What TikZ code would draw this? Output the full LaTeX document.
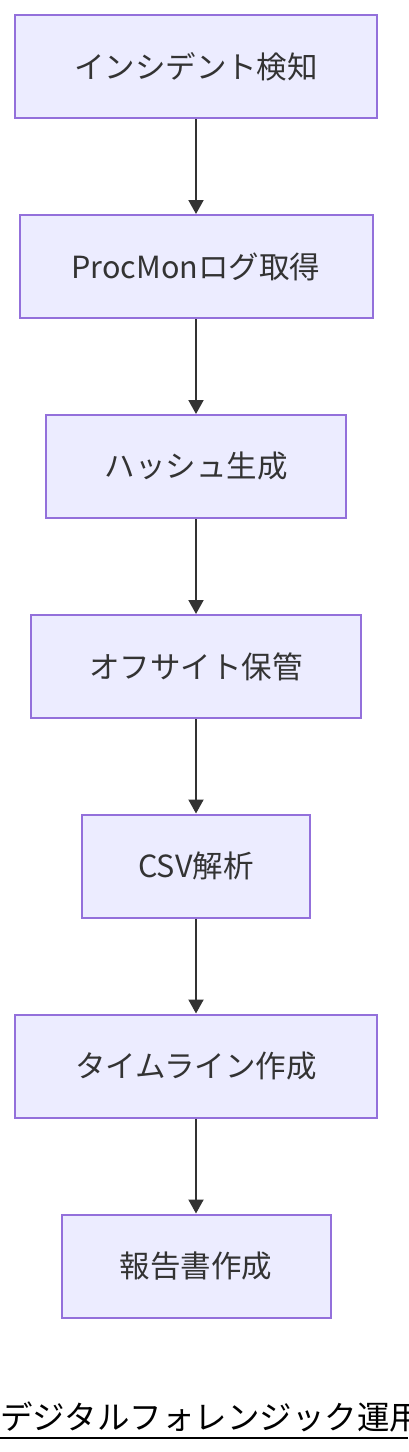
\documentclass[tikz,border=0pt]{standalone}
\usepackage{fontspec}
\setmainfont{Noto Sans CJK JP}
\usetikzlibrary{arrows.meta}
\definecolor{boxfill}{HTML}{ECECFF}
\definecolor{boxdraw}{HTML}{9370DB}
\definecolor{txt}{HTML}{333333}
\tikzset{
  procbox/.style={draw=boxdraw, fill=boxfill, line width=2pt, text=txt,
    minimum height=103pt, inner sep=0pt, font=\fontsize{30.5}{36}\selectfont},
  flow/.style={draw=txt, line width=2pt, -{Triangle[width=15pt,length=14pt]}},
}
\begin{document}
\begin{tikzpicture}[x=1pt,y=-1pt]
\useasboundingbox (0,0) rectangle (408,1452);
\clip (0,0) rectangle (408,1452);
\fill[white] (0,0) rectangle (408,1452);
\node[procbox, minimum width=362pt] (n1) at (196,66.5) {インシデント検知};
\node[procbox, minimum width=353pt] (n2) at (196,266.5) {ProcMonログ取得};
\node[procbox, minimum width=300pt] (n3) at (196,466.5) {ハッシュ生成};
\node[procbox, minimum width=330pt] (n4) at (196,666.5) {オフサイト保管};
\node[procbox, minimum width=228pt] (n5) at (196,866) {CSV解析};
\node[procbox, minimum width=362pt] (n6) at (196,1066) {タイムライン作成};
\node[procbox, minimum width=269pt] (n7) at (196,1266) {報告書作成};
\draw[flow] (n1) -- (n2);
\draw[flow] (n2) -- (n3);
\draw[flow] (n3) -- (n4);
\draw[flow] (n4) -- (n5);
\draw[flow] (n5) -- (n6);
\draw[flow] (n6) -- (n7);
\node[anchor=west, inner sep=0pt, text=black, font=\fontsize{32.5}{38}\selectfont] (title) at (0,1417) {デジタルフォレンジック運用};
\coordinate (ulL) at (0,1438);
\coordinate (ulR) at (408,1438);
\draw[black, line width=2.2pt] (ulL) -- (ulR);
\end{tikzpicture}
\end{document}
